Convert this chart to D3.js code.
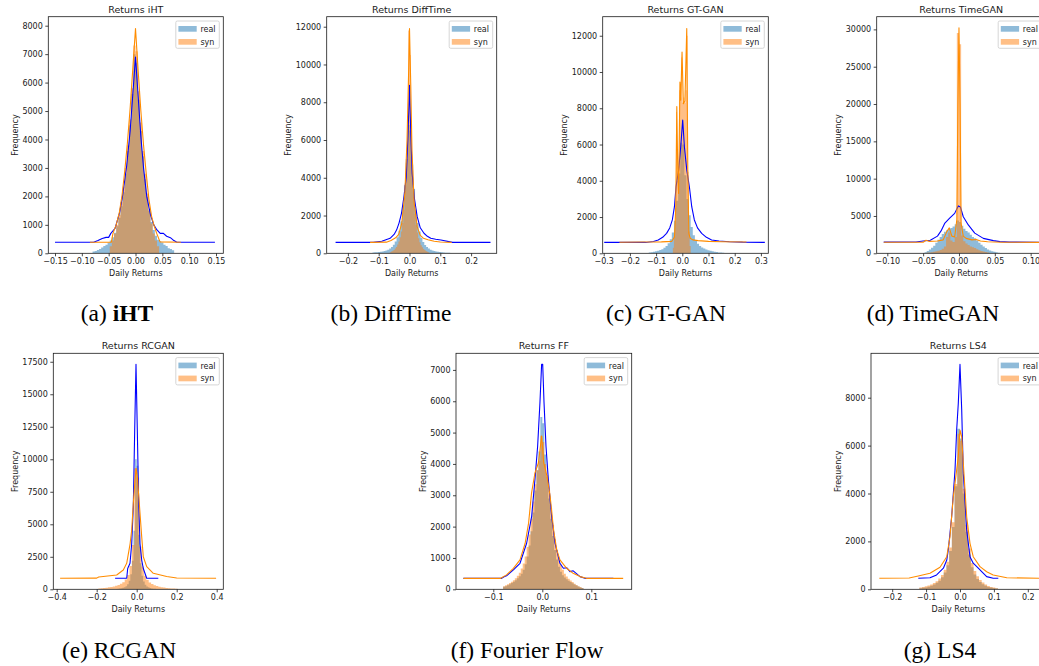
<!DOCTYPE html>
<html>
<head>
<meta charset="utf-8">
<script src="https://cdn.jsdelivr.net/npm/d3@7"></script>
<style>
  html, body { margin: 0; padding: 0; background: #fff; }
  svg { display: block; }
</style>
</head>
<body>
<svg id="fig" width="1039" height="666"></svg>
<script>
// ---------- Histogram counts (first bin edge, bin width, counts) ----------
const iHT_realStart = -0.080, iHT_realWidth = 0.004;
const iHT_realCounts = [60, 80, 120, 150, 200, 260, 300, 380, 450, 560, 720, 950, 1250, 1650, 2150, 2800, 3600, 4500, 5600, 7000, 6700, 5400, 4300, 3400, 2600, 2000, 1500, 1100, 820, 620, 480, 420, 380, 300, 260, 180, 150, 110];
const iHT_synStart = -0.048, iHT_synWidth = 0.004;
const iHT_synCounts = [250, 450, 700, 1000, 1350, 1800, 2350, 3000, 3800, 4700, 5800, 7300, 7100, 5700, 4600, 3600, 2800, 2100, 1500, 1050, 700, 450, 250];

const DiffTime_realStart = -0.120, DiffTime_realWidth = 0.006;
const DiffTime_realCounts = [40, 50, 60, 70, 80, 100, 120, 150, 190, 250, 330, 450, 620, 850, 1200, 1700, 2500, 3600, 5000, 6800, 6500, 4700, 3400, 2300, 1600, 1150, 820, 600, 440, 330, 250, 190, 150, 120, 100, 80, 70, 55, 45, 35, 30, 25, 20];
const DiffTime_synStart = -0.064, DiffTime_synWidth = 0.004;
const DiffTime_synCounts = [60, 90, 130, 180, 250, 340, 460, 620, 850, 1150, 1600, 2300, 3300, 4800, 7000, 11800, 10500, 6500, 4400, 3000, 2100, 1500, 1100, 800, 590, 430, 320, 230, 170, 120, 80, 50];

const GTGAN_realStart = -0.128, GTGAN_realWidth = 0.008;
const GTGAN_realCounts = [40, 60, 80, 110, 140, 180, 230, 300, 400, 550, 780, 1150, 1800, 2900, 4400, 6100, 6000, 4300, 3000, 2100, 1450, 1000, 700, 520, 400, 320, 260, 210, 170, 140, 110, 90, 70, 50, 40, 30];
const GTGAN_synStart = -0.036, GTGAN_synWidth = 0.004;
const GTGAN_synCounts = [300, 900, 2500, 7800, 4000, 4800, 9000, 8600, 10800, 8300, 8600, 8300, 9000, 12000, 4500, 1200, 400];

const TimeGAN_realStart = -0.048, TimeGAN_realWidth = 0.003;
const TimeGAN_realCounts = [150, 300, 500, 750, 1000, 1400, 1800, 2200, 2600, 2900, 3100, 3300, 3400, 3600, 3900, 4400, 4200, 3700, 3300, 3000, 2800, 2500, 2200, 2000, 1700, 1400, 1150, 900, 700, 520, 380, 280, 200, 140, 90, 50];
const TimeGAN_synStart = -0.045, TimeGAN_synWidth = 0.003;
const TimeGAN_synCounts = [100, 120, 150, 200, 260, 350, 450, 600, 900, 2200, 2800, 1700, 1500, 2200, 29500, 28000, 2400, 1600, 1300, 1100, 900, 800, 700, 550, 420, 320, 230, 160, 100];

const RCGAN_realStart = -0.104, RCGAN_realWidth = 0.008;
const RCGAN_realCounts = [30, 40, 60, 80, 110, 160, 240, 380, 650, 1150, 2200, 4500, 10000, 9500, 4200, 2000, 1050, 600, 350, 220, 150, 100, 70, 50, 35, 25];
const RCGAN_synStart = -0.192, RCGAN_synWidth = 0.012;
const RCGAN_synCounts = [60, 80, 100, 120, 150, 180, 220, 270, 330, 420, 550, 750, 1100, 1800, 3400, 9300, 8600, 3300, 1750, 1050, 720, 520, 400, 310, 250, 200, 160, 130, 105, 85, 70, 55, 40];

const FF_realStart = -0.080, FF_realWidth = 0.004;
const FF_realCounts = [80, 100, 130, 160, 200, 240, 290, 350, 420, 500, 620, 800, 1050, 1400, 1850, 2450, 3150, 3800, 4400, 5500, 5300, 4300, 3600, 2900, 2250, 1700, 1250, 950, 720, 560, 450, 380, 320, 270, 230, 190, 150, 120, 90, 60, 40];
const FF_synStart = -0.080, FF_synWidth = 0.004;
const FF_synCounts = [100, 130, 160, 200, 240, 290, 350, 430, 530, 660, 820, 1050, 1350, 1750, 2250, 2800, 3350, 3800, 4100, 4900, 4700, 4000, 3650, 3150, 2600, 2050, 1600, 1250, 980, 780, 620, 500, 410, 340, 280, 230, 180, 140, 100, 70, 40];

const LS4_realStart = -0.120, LS4_realWidth = 0.008;
const LS4_realCounts = [40, 60, 80, 110, 150, 200, 270, 360, 500, 700, 1000, 1600, 2600, 4300, 6700, 6300, 4000, 2400, 1450, 920, 620, 430, 300, 210, 150, 100, 70, 45, 30];
const LS4_synStart = -0.120, LS4_synWidth = 0.008;
const LS4_synCounts = [80, 100, 130, 160, 200, 260, 340, 450, 600, 820, 1150, 1750, 2800, 4400, 6500, 6200, 4200, 2700, 1700, 1100, 760, 540, 390, 280, 200, 140, 100, 70, 45];

// ---------- Frequency curves: [return, frequency] ----------
const iHT_realLine = [[-0.150, 390], [-0.078, 390], [-0.070, 450], [-0.062, 520], [-0.055, 560], [-0.050, 560], [-0.046, 700], [-0.038, 880], [-0.030, 1400], [-0.025, 1900], [-0.0166, 3050], [-0.010, 4300], [-0.005, 5600], [0.000, 6900], [0.005, 5500], [0.010, 4100], [0.015, 3000], [0.021, 1990], [0.028, 1350], [0.034, 1000], [0.040, 820], [0.046, 700], [0.052, 700], [0.058, 600], [0.065, 550], [0.070, 470], [0.077, 390], [0.148, 390]];
const iHT_synLine = [[-0.085, 390], [-0.045, 390], [-0.042, 700], [-0.036, 1000], [-0.030, 1450], [-0.025, 2050], [-0.020, 2900], [-0.015, 3900], [-0.010, 5100], [-0.005, 6500], [0.000, 7900], [0.005, 6400], [0.010, 5000], [0.015, 3800], [0.020, 2800], [0.025, 1900], [0.030, 1300], [0.035, 950], [0.0395, 700], [0.0457, 400], [0.0845, 390]];

const DiffTime_realLine = [[-0.240, 580], [-0.118, 580], [-0.090, 640], [-0.063, 795], [-0.050, 1000], [-0.042, 1230], [-0.034, 1600], [-0.026, 2120], [-0.018, 3000], [-0.0104, 4060], [-0.005, 6200], [0.000, 8900], [0.0045, 6200], [0.0087, 4230], [0.016, 2900], [0.025, 1940], [0.035, 1350], [0.047, 1060], [0.058, 900], [0.069, 795], [0.085, 740], [0.102, 706], [0.140, 580], [0.263, 580]];
const DiffTime_synLine = [[-0.128, 580], [-0.075, 590], [-0.060, 680], [-0.045, 820], [-0.035, 1000], [-0.025, 1600], [-0.015, 3200], [-0.008, 6000], [-0.003, 9500], [0.000, 11900], [0.004, 9000], [0.008, 5500], [0.015, 2700], [0.025, 1400], [0.035, 950], [0.045, 800], [0.060, 720], [0.080, 640], [0.100, 600], [0.137, 580]];

const GTGAN_realLine = [[-0.298, 600], [-0.140, 600], [-0.110, 650], [-0.092, 736], [-0.075, 880], [-0.060, 1100], [-0.048, 1400], [-0.038, 1840], [-0.030, 2570], [-0.024, 3670], [-0.014, 4600], [-0.006, 5880], [0.0015, 7350], [0.008, 5880], [0.017, 4600], [0.027, 3670], [0.036, 2570], [0.046, 1840], [0.058, 1400], [0.074, 1100], [0.092, 880], [0.112, 736], [0.140, 680], [0.180, 640], [0.230, 615], [0.315, 600]];
const GTGAN_synLine = [[-0.240, 610], [-0.150, 620], [-0.080, 630], [-0.040, 660], [-0.030, 900], [-0.025, 2500], [-0.021, 8100], [-0.017, 4200], [-0.014, 3300], [-0.009, 9450], [-0.006, 8450], [-0.001, 11100], [0.004, 8250], [0.010, 8400], [0.017, 12400], [0.021, 4600], [0.025, 1100], [0.030, 830], [0.040, 740], [0.060, 700], [0.100, 660], [0.150, 640], [0.245, 620]];

const TimeGAN_realLine = [[-0.105, 1500], [-0.060, 1520], [-0.050, 1650], [-0.040, 1750], [-0.030, 2300], [-0.025, 3000], [-0.020, 4000], [-0.013, 4700], [-0.006, 5350], [-0.001, 6350], [0.002, 6200], [0.006, 4900], [0.013, 3800], [0.022, 2700], [0.034, 2000], [0.048, 1700], [0.057, 1560], [0.070, 1500], [0.112, 1480]];
const TimeGAN_synLine = [[-0.105, 1480], [-0.050, 1480], [-0.046, 1750], [-0.042, 1600], [-0.030, 1650], [-0.022, 1800], [-0.017, 2900], [-0.0135, 3400], [-0.010, 2300], [-0.006, 2200], [-0.003, 4500], [-0.0015, 20000], [0.000, 30200], [0.0015, 20000], [0.003, 4000], [0.006, 2300], [0.010, 2000], [0.018, 1800], [0.024, 1850], [0.030, 1650], [0.040, 1550], [0.060, 1480], [0.112, 1470]];

const RCGAN_realLine = [[-0.108, 850], [-0.050, 850], [-0.045, 1600], [-0.0335, 2000], [-0.025, 3500], [-0.017, 6350], [-0.010, 12250], [-0.0035, 17300], [0.003, 12250], [0.010, 6600], [0.0165, 3500], [0.025, 2250], [0.033, 1600], [0.050, 850], [0.108, 850]];
const RCGAN_synLine = [[-0.383, 850], [-0.200, 860], [-0.190, 950], [-0.100, 1100], [-0.067, 1480], [-0.050, 2000], [-0.033, 3500], [-0.025, 4560], [-0.017, 6600], [-0.0085, 8400], [-0.003, 9300], [0.003, 8660], [0.013, 6600], [0.025, 4050], [0.033, 2500], [0.050, 1740], [0.083, 1230], [0.150, 980], [0.200, 870], [0.397, 850]];

const FF_realLine = [[-0.161, 350], [-0.083, 350], [-0.078, 400], [-0.073, 430], [-0.059, 620], [-0.0455, 830], [-0.032, 1470], [-0.0217, 2330], [-0.015, 3500], [-0.0095, 4570], [-0.0048, 5960], [-0.0014, 7180], [0.0008, 7180], [0.0035, 5960], [0.0075, 4570], [0.0123, 3500], [0.019, 2330], [0.026, 1470], [0.036, 830], [0.043, 670], [0.0497, 690], [0.0565, 565], [0.063, 590], [0.077, 405], [0.087, 350], [0.145, 350]];
const FF_synLine = [[-0.161, 350], [-0.085, 350], [-0.073, 460], [-0.059, 670], [-0.0455, 940], [-0.035, 1470], [-0.028, 2110], [-0.022, 3070], [-0.015, 3710], [-0.008, 4030], [-0.0014, 4890], [0.003, 4030], [0.0095, 3610], [0.016, 2970], [0.023, 1900], [0.0295, 1260], [0.036, 940], [0.0497, 670], [0.063, 510], [0.077, 405], [0.090, 350], [0.165, 350]];

const LS4_realLine = [[-0.123, 460], [-0.0885, 480], [-0.069, 600], [-0.049, 880], [-0.039, 1220], [-0.034, 1710], [-0.0246, 3030], [-0.0147, 4980], [-0.0098, 6650], [-0.005, 7770], [0.000, 9390], [0.005, 7520], [0.0098, 4840], [0.0197, 2480], [0.0295, 1360], [0.039, 1090], [0.054, 880], [0.064, 740], [0.0787, 530], [0.098, 460], [0.113, 460]];
const LS4_synLine = [[-0.238, 460], [-0.150, 470], [-0.123, 555], [-0.0885, 670], [-0.059, 920], [-0.039, 1360], [-0.0295, 2200], [-0.0197, 3870], [-0.0098, 4980], [-0.005, 5540], [0.000, 6650], [0.005, 6370], [0.0098, 5260], [0.0197, 3030], [0.0295, 1920], [0.039, 1360], [0.059, 945], [0.0787, 735], [0.098, 600], [0.138, 480], [0.250, 460]];

// ---------- Tick values ----------
const iHT_xTicks = [-0.15, -0.10, -0.05, 0, 0.05, 0.10, 0.15];
const iHT_yTicks = [0, 1000, 2000, 3000, 4000, 5000, 6000, 7000, 8000];
const DiffTime_xTicks = [-0.2, -0.1, 0, 0.1, 0.2];
const DiffTime_yTicks = [0, 2000, 4000, 6000, 8000, 10000, 12000];
const GTGAN_xTicks = [-0.3, -0.2, -0.1, 0, 0.1, 0.2, 0.3];
const GTGAN_yTicks = [0, 2000, 4000, 6000, 8000, 10000, 12000];
const TimeGAN_xTicks = [-0.10, -0.05, 0, 0.05, 0.10];
const TimeGAN_yTicks = [0, 5000, 10000, 15000, 20000, 25000, 30000];
const RCGAN_xTicks = [-0.4, -0.2, 0, 0.2, 0.4];
const RCGAN_yTicks = [0, 2500, 5000, 7500, 10000, 12500, 15000, 17500];
const FF_xTicks = [-0.1, 0, 0.1];
const FF_yTicks = [0, 1000, 2000, 3000, 4000, 5000, 6000, 7000];
const LS4_xTicks = [-0.2, -0.1, 0, 0.1, 0.2];
const LS4_yTicks = [0, 2000, 4000, 6000, 8000];

// ---------- Titles and captions ----------
const panelTitles = ["Returns iHT", "Returns DiffTime", "Returns GT-GAN", "Returns TimeGAN", "Returns RCGAN", "Returns FF", "Returns LS4"];
const captionTags = ["(a)", "(b)", "(c)", "(d)", "(e)", "(f)", "(g)"];
const captionNames = ["iHT", "DiffTime", "GT-GAN", "TimeGAN", "RCGAN", "Fourier Flow", "LS4"];
const legendLabels = ["real", "syn"];

// ---------- Panel layout ----------
const ROW1 = { top: 16.7, bottom: 253.3 };
const ROW2 = { top: 353.3, bottom: 589.3 };

const panels = [
  { key: "iht", row: ROW1, left: 48.3, right: 223.3, xDomain: [-0.1625, 0.1636], yMax: 8316, xDec: 2,
    real: [iHT_realStart, iHT_realWidth, iHT_realCounts], syn: [iHT_synStart, iHT_synWidth, iHT_synCounts],
    realLine: iHT_realLine, synLine: iHT_synLine, xTicks: iHT_xTicks, yTicks: iHT_yTicks },
  { key: "difftime", row: ROW1, left: 326.7, right: 496.7, xDomain: [-0.2688, 0.2831], yMax: 12530, xDec: 1,
    real: [DiffTime_realStart, DiffTime_realWidth, DiffTime_realCounts], syn: [DiffTime_synStart, DiffTime_synWidth, DiffTime_synCounts],
    realLine: DiffTime_realLine, synLine: DiffTime_synLine, xTicks: DiffTime_xTicks, yTicks: DiffTime_yTicks },
  { key: "gtgan", row: ROW1, left: 602.7, right: 768.3, xDomain: [-0.3038, 0.3282], yMax: 13050, xDec: 1,
    real: [GTGAN_realStart, GTGAN_realWidth, GTGAN_realCounts], syn: [GTGAN_synStart, GTGAN_synWidth, GTGAN_synCounts],
    realLine: GTGAN_realLine, synLine: GTGAN_synLine, xTicks: GTGAN_xTicks, yTicks: GTGAN_yTicks },
  { key: "timegan", row: ROW1, left: 876.7, right: 1045.7, xDomain: [-0.1148, 0.1210], yMax: 31700, xDec: 2,
    real: [TimeGAN_realStart, TimeGAN_realWidth, TimeGAN_realCounts], syn: [TimeGAN_synStart, TimeGAN_synWidth, TimeGAN_synCounts],
    realLine: TimeGAN_realLine, synLine: TimeGAN_synLine, xTicks: TimeGAN_xTicks, yTicks: TimeGAN_yTicks },
  { key: "rcgan", row: ROW2, left: 53.3, right: 223.3, xDomain: [-0.417, 0.433], yMax: 18150, xDec: 1,
    real: [RCGAN_realStart, RCGAN_realWidth, RCGAN_realCounts], syn: [RCGAN_synStart, RCGAN_synWidth, RCGAN_synCounts],
    realLine: RCGAN_realLine, synLine: RCGAN_synLine, xTicks: RCGAN_xTicks, yTicks: RCGAN_yTicks },
  { key: "ff", row: ROW2, left: 456, right: 631.7, xDomain: [-0.1761, 0.1824], yMax: 7530, xDec: 1,
    real: [FF_realStart, FF_realWidth, FF_realCounts], syn: [FF_synStart, FF_synWidth, FF_synCounts],
    realLine: FF_realLine, synLine: FF_synLine, xTicks: FF_xTicks, yTicks: FF_yTicks },
  { key: "ls4", row: ROW2, left: 871, right: 1045.6, xDomain: [-0.2625, 0.2525], yMax: 9854, xDec: 1,
    real: [LS4_realStart, LS4_realWidth, LS4_realCounts], syn: [LS4_synStart, LS4_synWidth, LS4_synCounts],
    realLine: LS4_realLine, synLine: LS4_synLine, xTicks: LS4_xTicks, yTicks: LS4_yTicks }
];

// caption centres (x) and baselines (y)
const captionPos = [[117, 321], [391, 321], [666, 321], [933, 321], [119, 658], [527, 658], [940, 658]];

const SANS = "'DejaVu Sans', sans-serif";
const SERIF = "'Liberation Serif', 'Times New Roman', serif";
const REAL_FILL = "#1f77b4", SYN_FILL = "#ff7f0e";
const REAL_LINE = "#0000ff", SYN_LINE = "#ff8c00";
const INK = "#1a1a1a";

const svg = d3.select("#fig");
const defs = svg.append("defs");

function fmtTick(dec) {
  return v => {
    const s = Math.abs(v).toFixed(dec);
    return (v < -1e-12 ? "\u2212" : "") + s;
  };
}

// histogram as a filled step outline
function histPoints(spec) {
  const [start, width, counts] = spec;
  const pts = counts.map((c, i) => [start + i * width, c]);
  pts.push([start + counts.length * width, counts[counts.length - 1]]);
  return pts;
}

panels.forEach((p, idx) => {
  const top = p.row.top, bottom = p.row.bottom;
  const x = d3.scaleLinear().domain(p.xDomain).range([p.left, p.right]);
  const y = d3.scaleLinear().domain([0, p.yMax]).range([bottom, top]);
  const g = svg.append("g").attr("class", "panel-" + p.key);

  const clipId = "clip-" + p.key;
  defs.append("clipPath").attr("id", clipId).append("rect")
    .attr("x", p.left).attr("y", top).attr("width", p.right - p.left).attr("height", bottom - top);
  const plot = g.append("g").attr("clip-path", `url(#${clipId})`);

  const area = d3.area().x(d => x(d[0])).y0(y(0)).y1(d => y(d[1])).curve(d3.curveStepAfter);
  plot.append("path").attr("d", area(histPoints(p.real))).attr("fill", REAL_FILL).attr("fill-opacity", 0.5);
  plot.append("path").attr("d", area(histPoints(p.syn))).attr("fill", SYN_FILL).attr("fill-opacity", 0.5);

  const line = d3.line().x(d => x(d[0])).y(d => y(d[1]));
  plot.append("path").attr("d", line(p.realLine)).attr("fill", "none")
    .attr("stroke", REAL_LINE).attr("stroke-width", 1.1).attr("stroke-linejoin", "round");
  plot.append("path").attr("d", line(p.synLine)).attr("fill", "none")
    .attr("stroke", SYN_LINE).attr("stroke-width", 1.1).attr("stroke-linejoin", "round");

  // axes
  const xAxis = d3.axisBottom(x).tickValues(p.xTicks).tickFormat(fmtTick(p.xDec))
    .tickSize(3).tickPadding(2.5).tickSizeOuter(0);
  const gx = g.append("g").attr("transform", `translate(0,${bottom})`).call(xAxis);
  const yAxis = d3.axisLeft(y).tickValues(p.yTicks).tickFormat(d3.format("d"))
    .tickSize(3).tickPadding(2.5).tickSizeOuter(0);
  const gy = g.append("g").attr("transform", `translate(${p.left},0)`).call(yAxis);
  [gx, gy].forEach(a => {
    a.select(".domain").remove();
    a.selectAll(".tick line").attr("stroke", INK).attr("stroke-width", 0.8);
    a.selectAll(".tick text").attr("fill", INK).style("font-family", SANS).style("font-size", "8px");
  });

  // frame
  g.append("rect").attr("x", p.left).attr("y", top).attr("width", p.right - p.left).attr("height", bottom - top)
    .attr("fill", "none").attr("stroke", INK).attr("stroke-width", 0.8);

  const cx = (p.left + p.right) / 2;
  // title
  g.append("text").attr("x", cx).attr("y", top - 4.2).attr("text-anchor", "middle")
    .attr("fill", INK).style("font-family", SANS).style("font-size", "9.5px").text(panelTitles[idx]);
  // x label
  g.append("text").attr("x", cx).attr("y", bottom + 22.8).attr("text-anchor", "middle")
    .attr("fill", INK).style("font-family", SANS).style("font-size", "8px").text("Daily Returns");
  // y label, placed left of the widest tick label (bbox is in the axis group's own coordinates)
  const tickLeft = p.left + gy.node().getBBox().x;
  const cy = (top + bottom) / 2;
  g.append("text").attr("transform", `translate(${tickLeft - 4.5},${cy}) rotate(-90)`)
    .attr("text-anchor", "middle").attr("fill", INK)
    .style("font-family", SANS).style("font-size", "8px").text("Frequency");

  // legend
  const lw = 43.5, lh = 27.3;
  const lx = p.right - 4 - lw, ly = top + 4.3;
  const lg = g.append("g").attr("transform", `translate(${lx},${ly})`);
  lg.append("rect").attr("width", lw).attr("height", lh).attr("rx", 1.6)
    .attr("fill", "#fff").attr("fill-opacity", 0.8).attr("stroke", "#cccccc").attr("stroke-width", 0.8);
  [[REAL_FILL, 5.0, 11.3], [SYN_FILL, 18.0, 23.6]].forEach(([col, py, ty], k) => {
    lg.append("rect").attr("x", 2.6).attr("y", py).attr("width", 18.3).attr("height", 5.7)
      .attr("fill", col).attr("fill-opacity", 0.5);
    lg.append("text").attr("x", 24.6).attr("y", ty).attr("fill", INK)
      .style("font-family", SANS).style("font-size", "8px").text(legendLabels[k]);
  });
});

// captions under each panel
captionTags.forEach((tag, i) => {
  const t = svg.append("text").attr("x", captionPos[i][0]).attr("y", captionPos[i][1])
    .attr("text-anchor", "middle").attr("fill", "#000")
    .style("font-family", SERIF).style("font-size", "23.5px");
  t.append("tspan").text(tag + " ");
  t.append("tspan").style("font-weight", i === 0 ? "bold" : "normal").text(captionNames[i]);
});
</script>
</body>
</html>
